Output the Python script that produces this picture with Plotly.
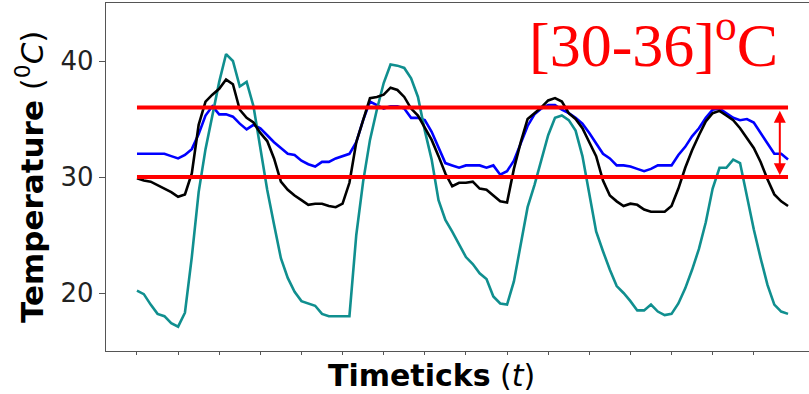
import plotly.graph_objects as go

# sample index (timeticks)
t = list(range(96))

teal_vals = [20.2, 19.9, 19.0, 18.2, 18.0, 17.4, 17.1, 18.3, 23.1, 28.7,
             32.4, 35.4, 38.2, 40.6, 40.0, 37.8, 38.2, 36.1, 32.3, 28.9,
             25.9, 23.0, 21.3, 20.1, 19.3, 19.1, 18.9, 18.2, 18.0, 18.0,
             18.0, 18.0, 25.0, 29.6, 33.2, 35.8, 38.1, 39.7, 39.6, 39.4,
             38.5, 36.9, 34.0, 31.5, 28.0, 26.3, 25.3, 24.2, 23.1, 22.5,
             21.7, 21.2, 19.7, 19.1, 19.0, 21.0, 24.3, 27.4, 29.3, 31.4,
             33.6, 35.1, 35.3, 34.9, 34.0, 31.8, 28.4, 25.3, 23.6, 22.0,
             20.6, 20.0, 19.3, 18.5, 18.5, 19.0, 18.4, 18.1, 18.2, 19.1,
             20.4, 22.0, 23.8, 26.1, 29.0, 30.8, 30.8, 31.5, 31.2, 28.2,
             25.5, 23.0, 20.7, 19.0, 18.4, 18.2]

black_vals = [29.9, 29.7, 29.6, 29.3, 29.0, 28.7, 28.3, 28.5, 30.3, 34.5,
              36.5, 37.1, 37.6, 38.4, 38.0, 35.8, 35.1, 34.7, 33.8, 33.1,
              31.6, 29.6, 28.9, 28.4, 28.0, 27.6, 27.7, 27.7, 27.5, 27.4,
              27.7, 29.5, 33.0, 35.0, 36.8, 36.9, 37.1, 37.7, 37.5, 36.9,
              35.9, 35.3, 34.3, 33.2, 31.8, 30.3, 29.2, 29.5, 29.5, 29.6,
              29.0, 28.9, 28.4, 27.9, 27.8, 30.7, 33.0, 35.0, 35.5, 36.0,
              36.6, 36.8, 36.5, 35.5, 35.0, 34.2, 33.0, 31.8, 29.7, 28.4,
              27.9, 27.5, 27.7, 27.6, 27.2, 27.0, 27.0, 27.0, 27.5, 29.0,
              30.8, 32.3, 33.6, 34.8, 35.5, 35.7, 35.3, 34.9, 34.2, 33.3,
              32.5, 31.3, 29.8, 28.5, 27.9, 27.5]

blue_vals = [32.0, 32.0, 32.0, 32.0, 32.0, 31.8, 31.6, 31.9, 32.4, 33.7,
             35.3, 36.1, 35.4, 35.4, 35.2, 34.6, 34.1, 34.5, 34.2, 33.6,
             33.0, 32.5, 32.0, 31.9, 31.4, 31.1, 30.9, 31.3, 31.3, 31.6,
             31.8, 32.0, 33.0, 34.9, 36.5, 36.2, 35.9, 36.1, 36.1, 35.9,
             35.1, 35.1, 34.9, 33.9, 32.6, 31.2, 31.0, 30.8, 31.0, 31.0,
             31.0, 30.8, 31.0, 30.2, 30.5, 31.4, 32.9, 34.4, 35.4, 35.9,
             36.2, 36.2, 35.8, 35.5, 35.1, 34.6, 33.8, 32.9, 32.0, 31.6,
             31.0, 31.0, 30.9, 30.7, 30.5, 30.7, 31.0, 31.0, 31.0, 31.9,
             32.6, 33.5, 34.2, 35.1, 35.8, 35.9, 35.5, 35.1, 34.9, 35.0,
             34.7, 33.8, 32.9, 32.0, 32.0, 31.5]

band_low, band_high = 30, 36
y_ticks = [20, 30, 40]
x_ticks = list(range(0, 91, 6))

fig = go.Figure()
fig.add_trace(go.Scatter(x=t, y=blue_vals, mode="lines",
                         line=dict(color="#0000ff", width=2.6)))
fig.add_trace(go.Scatter(x=t, y=teal_vals, mode="lines",
                         line=dict(color="#108f8f", width=2.6)))
fig.add_trace(go.Scatter(x=t, y=black_vals, mode="lines",
                         line=dict(color="#000000", width=2.6)))
for lvl in (band_low, band_high):
    fig.add_trace(go.Scatter(x=[t[0], t[-1]], y=[lvl, lvl], mode="lines",
                             line=dict(color="#ff0000", width=4)))

fig.update_layout(
    width=809, height=394,
    margin=dict(l=106, r=0, t=3, b=43),
    paper_bgcolor="white", plot_bgcolor="white",
    showlegend=False,
    xaxis=dict(range=[-4.52, 98.06], showgrid=False, zeroline=False,
               showline=True, mirror=True, linecolor="#555", linewidth=1.3,
               ticks="outside", ticklen=3, tickcolor="#555", tickwidth=1,
               tickvals=x_ticks, showticklabels=False),
    yaxis=dict(range=[15, 45], showgrid=False, zeroline=False,
               showline=True, mirror=False, linecolor="#555", linewidth=1.3,
               ticks="outside", ticklen=6, tickcolor="#555", tickwidth=1.2,
               tickvals=y_ticks,
               tickfont=dict(family="DejaVu Sans", size=26, color="#222")),
)

fig.add_annotation(x=-0.108, y=0.5, xref="paper", yref="paper",
                   text="<b>Temperature</b> (<sup>0</sup><i>C</i>)",
                   textangle=-90, showarrow=False, xanchor="center", yanchor="middle",
                   font=dict(family="DejaVu Sans", size=31, color="black"))
fig.add_annotation(x=0.4625, y=-0.069, xref="paper", yref="paper",
                   text="<b>Timeticks</b> (<i>t</i>)",
                   showarrow=False, xanchor="center", yanchor="middle",
                   font=dict(family="DejaVu Sans", size=30, color="black"))
fig.add_annotation(x=0.7795, y=0.895, xref="paper", yref="paper",
                   text="[30-36]<sup>o</sup>C",
                   showarrow=False, xanchor="center", yanchor="middle",
                   font=dict(family="Liberation Serif", size=62, color="#ff0000"))
fig.add_annotation(x=93.8, y=30.15, ax=93.8, ay=35.85, xref="x", yref="y",
                   axref="x", ayref="y", text="", showarrow=True,
                   arrowhead=2, startarrowhead=2, arrowside="end+start",
                   arrowsize=1.2, startarrowsize=1.2, arrowwidth=2,
                   arrowcolor="#ff0000", standoff=0, startstandoff=0)

fig.write_html("out.html")
